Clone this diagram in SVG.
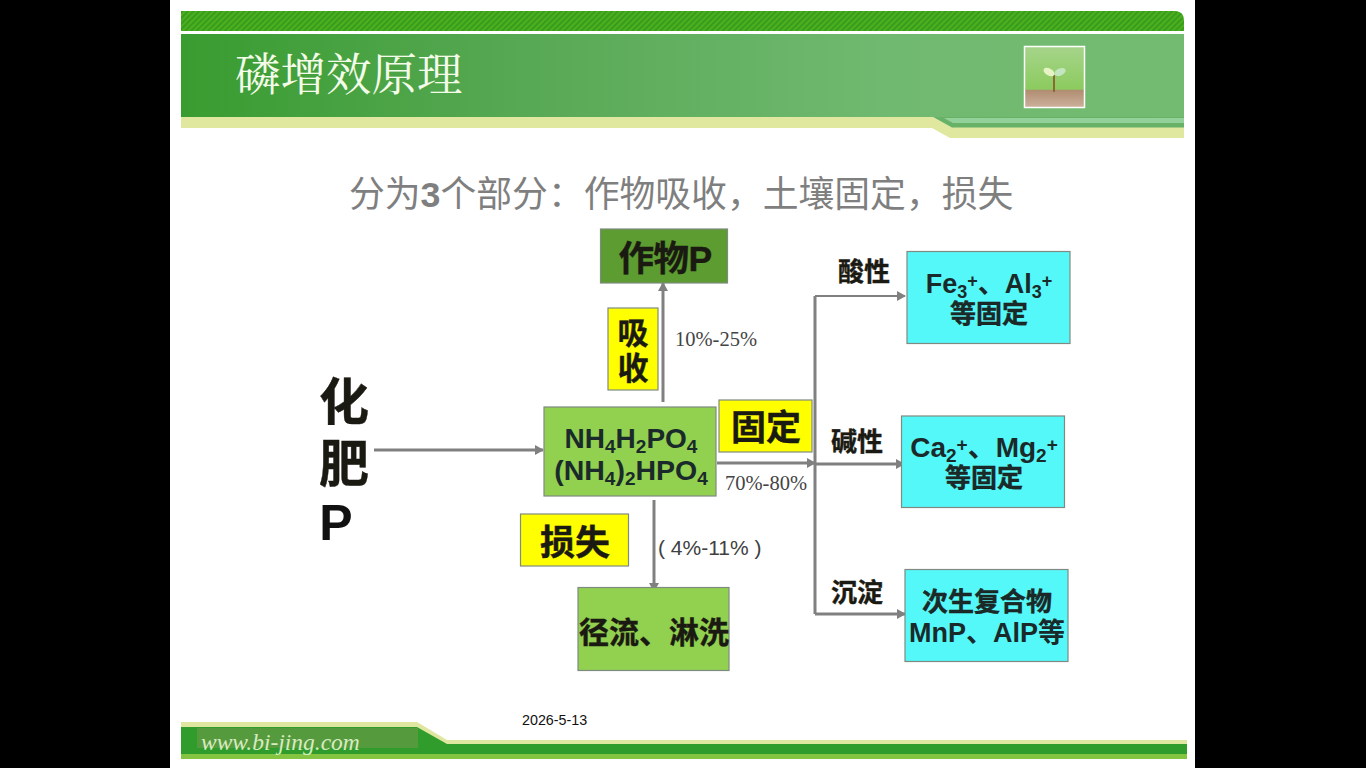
<svg xmlns="http://www.w3.org/2000/svg" width="1366" height="768" viewBox="0 0 1366 768">
<style>
.cjk{font-family:"Noto Sans CJK SC","Liberation Sans",sans-serif;font-weight:700;fill:#1a1a12;stroke:#1a1a12;stroke-width:.4}
.lat{font-family:"Liberation Sans","Noto Sans CJK SC",sans-serif;font-weight:700;fill:#1a2a2a}
.ser{font-family:"Liberation Serif",serif;font-size:20.500px;fill:#444}
.box{stroke:#7f8a80;stroke-width:1.2}
.con{fill:none;stroke:#808080;stroke-width:3}
</style>
<defs>
<pattern id="hatch" width="4" height="4" patternUnits="userSpaceOnUse" patternTransform="rotate(45)"><rect width="4" height="4" fill="#4fae1e"/><rect width="1.6" height="4" fill="#2f9a1c"/></pattern>
<linearGradient id="hdr" x1="0" x2="1" y1="0" y2="0"><stop offset="0" stop-color="#399c30"/><stop offset=".35" stop-color="#58a955"/><stop offset=".7" stop-color="#70b970"/><stop offset="1" stop-color="#73bb70"/></linearGradient>
<linearGradient id="sky" x1="0" x2="0" y1="0" y2="1"><stop offset="0" stop-color="#a6d48a"/><stop offset=".7" stop-color="#8ccb5f"/><stop offset=".72" stop-color="#b08e72"/><stop offset="1" stop-color="#cdb09c"/></linearGradient>
<marker id="arr" markerWidth="11" markerHeight="11" refX="8" refY="5" orient="auto" markerUnits="userSpaceOnUse"><path d="M0 0L9 5L0 10Z" fill="#808080"/></marker>
</defs>
<rect width="1366" height="768" fill="#000"/>
<rect x="170" y="0" width="1025" height="768" fill="#fff"/>
<g id="header">
<path d="M181 11H1176Q1184 12 1184 20V31H181Z" fill="url(#hatch)"/>
<rect x="181" y="34" width="1003" height="83" fill="url(#hdr)"/>
<path d="M181 117H933L952 127H1184V138H950L932 128H181Z" fill="#e0e8a0"/>
<path d="M933 117H1184V127.500H952Z" fill="#68b268"/>
<path d="M944 118H1184V123H953Z" fill="#93d19a"/>
<text x="235" y="91" font-family="'Noto Serif CJK SC','Noto Sans CJK SC',serif" font-size="45.500" fill="#f4fbe9">磷增效原理</text>
<rect x="1024.500" y="46.500" width="60" height="61" fill="url(#sky)" stroke="#fff" stroke-width="1.500"/>
<path d="M1054 92V75" stroke="#8a6a30" stroke-width="2"/>
<ellipse cx="1049" cy="72" rx="6" ry="3.500" fill="#e5f3c5" transform="rotate(30 1049 72)"/>
<ellipse cx="1060" cy="72" rx="6" ry="3.500" fill="#c3e6c0" transform="rotate(-25 1060 72)"/>
</g>
<text x="349" y="207" font-family="'Noto Sans CJK SC','Liberation Sans',sans-serif" font-size="35.800" fill="#7f7f7f">分为<tspan font-family="'Liberation Sans',sans-serif" font-weight="700">3</tspan>个部分：作物吸收，土壤固定，损失</text>
<g id="connectors">
<path class="con" d="M374 450H543" marker-end="url(#arr)"/>
<path class="con" d="M663 402V283" marker-end="url(#arr)"/>
<path class="con" d="M717 463H815" marker-end="url(#arr)"/>
<path class="con" d="M654 500V591" marker-end="url(#arr)"/>
<path class="con" d="M815 296V614"/>
<path class="con" d="M815 296H905" style="stroke-width:2" marker-end="url(#arr)"/>
<path class="con" d="M815 464H904" marker-end="url(#arr)"/>
<path class="con" d="M815 614H905" marker-end="url(#arr)"/>
</g>
<g id="fertilizer-label">
<text class="cjk" x="344" y="420" font-size="50" text-anchor="middle">化</text>
<text class="cjk" x="344" y="482" font-size="50" text-anchor="middle">肥</text>
<text class="lat" x="336" y="540" font-size="50" text-anchor="middle" style="fill:#111">P</text>
</g>
<g id="crop-p">
<rect class="box" x="600.500" y="229" width="127" height="54" fill="#5c9c30"/>
<text class="cjk" x="665" y="271" font-size="35.500" text-anchor="middle" letter-spacing="-.5">作物<tspan font-family="'Liberation Sans',sans-serif">P</tspan></text>
</g>
<g id="absorb">
<rect class="box" x="608" y="308" width="50" height="82" fill="#ffff00"/>
<text class="cjk" x="633" y="344" font-size="31" text-anchor="middle">吸</text>
<text class="cjk" x="633" y="379" font-size="31" text-anchor="middle">收</text>
</g>
<text class="ser" x="675" y="346">10%-25%</text>
<g id="compound">
<rect class="box" x="544" y="407" width="172" height="89" fill="#92d050"/>
<text class="lat" x="631" y="448" font-size="28" text-anchor="middle">NH<tspan font-size="19" dy="5">4</tspan><tspan dy="-5">H</tspan><tspan font-size="19" dy="5">2</tspan><tspan dy="-5">PO</tspan><tspan font-size="19" dy="5">4</tspan></text>
<text class="lat" x="631" y="480" font-size="28.500" text-anchor="middle">(NH<tspan font-size="19" dy="5">4</tspan><tspan dy="-5">)</tspan><tspan font-size="19" dy="5">2</tspan><tspan dy="-5">HPO</tspan><tspan font-size="19" dy="5">4</tspan></text>
</g>
<g id="fix">
<rect class="box" x="719" y="400" width="93" height="52" fill="#ffff00"/>
<text class="cjk" x="766" y="440" font-size="35" text-anchor="middle">固定</text>
</g>
<text class="ser" x="725" y="490">70%-80%</text>
<g id="loss">
<rect class="box" x="520.500" y="514" width="108" height="52" fill="#ffff00"/>
<text class="cjk" x="575" y="555" font-size="35" text-anchor="middle">损失</text>
</g>
<text x="658" y="555" font-family="'Liberation Sans',sans-serif" font-size="21" fill="#404040">( 4%-11% )</text>
<g id="runoff">
<rect class="box" x="578" y="587.500" width="151" height="83" fill="#92d050"/>
<text class="cjk" x="654" y="643" font-size="30" text-anchor="middle">径流、淋洗</text>
</g>
<g id="acid">
<text class="cjk" x="864" y="281" font-size="26" text-anchor="middle">酸性</text>
<rect class="box" x="907" y="251.500" width="163" height="92" fill="#55f8f8"/>
<text class="lat" x="989" y="293" font-size="27" text-anchor="middle">Fe<tspan font-size="18" dy="5">3</tspan><tspan font-size="18" dy="-11">+</tspan><tspan dy="6">、Al</tspan><tspan font-size="18" dy="5">3</tspan><tspan font-size="18" dy="-11">+</tspan></text>
<text class="cjk" x="989" y="323" font-size="26" text-anchor="middle" style="fill:#1a2a2a">等固定</text>
</g>
<g id="alkali">
<text class="cjk" x="857" y="451" font-size="26" text-anchor="middle">碱性</text>
<rect class="box" x="901.500" y="416" width="163" height="91.500" fill="#55f8f8"/>
<text class="lat" x="984" y="457" font-size="28" text-anchor="middle">Ca<tspan font-size="19" dy="5">2</tspan><tspan font-size="19" dy="-11">+</tspan><tspan dy="6">、Mg</tspan><tspan font-size="19" dy="5">2</tspan><tspan font-size="19" dy="-11">+</tspan></text>
<text class="cjk" x="984" y="487" font-size="26" text-anchor="middle" style="fill:#1a2a2a">等固定</text>
</g>
<g id="precip">
<text class="cjk" x="857" y="602" font-size="26" text-anchor="middle">沉淀</text>
<rect class="box" x="905" y="569.500" width="163" height="92" fill="#55f8f8"/>
<text class="cjk" x="987" y="611" font-size="26" text-anchor="middle" style="fill:#1a2a2a">次生复合物</text>
<text class="lat" x="987" y="642" font-size="27" text-anchor="middle">MnP、AlP等</text>
</g>
<g id="footer">
<path d="M181 722H417L447 740H1187V744H444L417 727H181Z" fill="#dfe6a0"/>
<path d="M181 727H417L447 744H1187V754H181Z" fill="#2f9c2b"/>
<rect x="197" y="728" width="221" height="20" fill="#569a3e"/>
<rect x="181" y="754" width="1006" height="5" fill="#84c440"/>
<text x="201" y="750" font-family="'Liberation Serif',serif" font-style="italic" font-size="23.500" fill="#d6ecc0">www.bi-jing.com</text>
<text x="522" y="725" font-family="'Liberation Sans',sans-serif" font-size="14.300" fill="#111">2026-5-13</text>
</g>
</svg>
